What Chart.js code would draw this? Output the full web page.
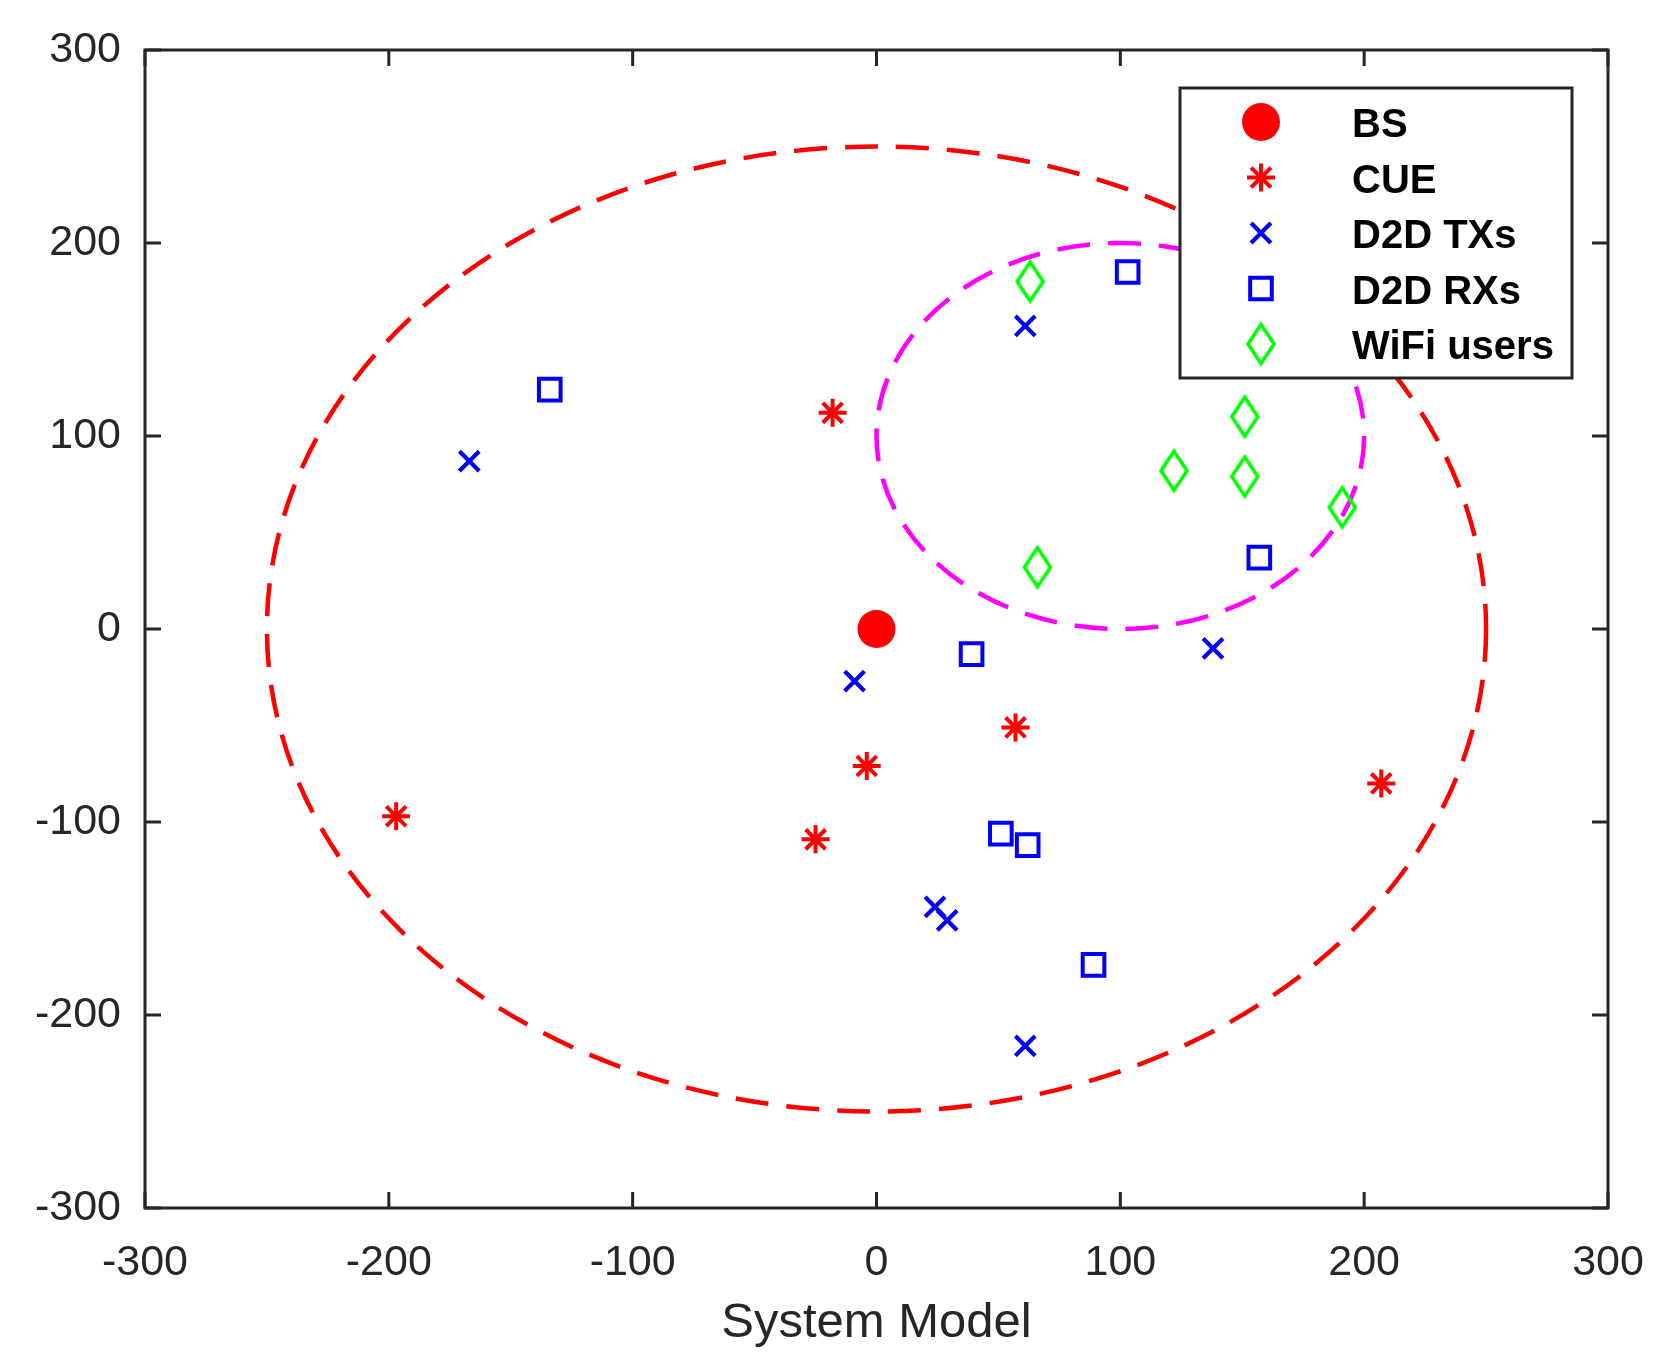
<!DOCTYPE html>
<html>
<head>
<meta charset="utf-8">
<script src="https://cdn.jsdelivr.net/npm/chart.js@4"></script>
<style>
  body { margin: 0; background: #fff; }
  #wrap { width: 1669px; height: 1365px; }
</style>
</head>
<body>
<div id="wrap"><canvas id="model"></canvas></div>
<script>
// positions (metres)
const bsX = [0];
const bsY = [0];
const cueX = [-18, -197, -4, 57, -25, 207];
const cueY = [112, -97, -71, -51, -109, -80];
const txX = [-167, 61, -9, 138, 24, 29, 61];
const txY = [87, 157, -27, -10, -144, -151, -216];
const rxX = [-134, 103, 39, 157, 51, 62, 89];
const rxY = [124, 185, -13, 37, -106, -112, -174];
const wifiX = [63, 151, 122, 151, 191, 66];
const wifiY = [180, 110, 82, 79, 63, 32];

// coverage circles: cell and WiFi area
const circleX = [0, 100];
const circleY = [0, 100];
const circleR = [250, 100];
const circleColor = ['#ff0000', '#ff00ff'];

const axisMin = -300;
const axisMax = 300;
const axisStep = 100;

const ink = '#262626';

function toPoints(xs, ys) {
    return xs.map((x, i) => ({ x: x, y: ys[i] }));
}

// MATLAB style diamond, taller than wide
function diamond(color) {
    const c = document.createElement('canvas');
    c.width = 36;
    c.height = 48;
    const g = c.getContext('2d');
    g.strokeStyle = color;
    g.lineWidth = 3.6;
    g.beginPath();
    g.moveTo(18, 4.5);
    g.lineTo(31, 24);
    g.lineTo(18, 43.5);
    g.lineTo(5, 24);
    g.closePath();
    g.stroke();
    return c;
}

const circlesPlugin = {
    id: 'circles',
    beforeDatasetsDraw(chart) {
        const ctx = chart.ctx;
        const sx = chart.scales.x;
        const sy = chart.scales.y;
        ctx.save();
        ctx.lineWidth = 4.5;
        ctx.setLineDash([33, 18]);
        circleX.forEach((cx, i) => {
            const px = sx.getPixelForValue(cx);
            const py = sy.getPixelForValue(circleY[i]);
            const rx = Math.abs(sx.getPixelForValue(cx + circleR[i]) - px);
            const ry = Math.abs(sy.getPixelForValue(circleY[i] + circleR[i]) - py);
            ctx.strokeStyle = circleColor[i];
            ctx.beginPath();
            ctx.ellipse(px, py, rx, ry, 0, 0, Math.PI * 2);
            ctx.stroke();
        });
        ctx.restore();
    }
};

const boxPlugin = {
    id: 'box',
    afterDraw(chart) {
        const ctx = chart.ctx;
        const a = chart.chartArea;
        const sx = chart.scales.x;
        const sy = chart.scales.y;
        const tl = 16;
        ctx.save();
        ctx.strokeStyle = ink;
        ctx.lineWidth = 3;
        ctx.beginPath();
        sx.ticks.forEach(t => {
            const p = sx.getPixelForValue(t.value);
            ctx.moveTo(p, a.bottom);
            ctx.lineTo(p, a.bottom - tl);
            ctx.moveTo(p, a.top);
            ctx.lineTo(p, a.top + tl);
        });
        sy.ticks.forEach(t => {
            const p = sy.getPixelForValue(t.value);
            ctx.moveTo(a.left, p);
            ctx.lineTo(a.left + tl, p);
            ctx.moveTo(a.right, p);
            ctx.lineTo(a.right - tl, p);
        });
        ctx.stroke();
        ctx.strokeRect(a.left, a.top, a.right - a.left, a.bottom - a.top);

        // legend
        const lx = 1180, ly = 88, lw = 392, lh = 290;
        ctx.fillStyle = '#ffffff';
        ctx.fillRect(lx, ly, lw, lh);
        ctx.strokeRect(lx, ly, lw, lh);
        ctx.font = 'bold 40px "Liberation Sans", Arial, sans-serif';
        ctx.textBaseline = 'middle';
        ctx.textAlign = 'left';
        chart.data.datasets.forEach((ds, i) => {
            const y = 122 + i * 55.5;
            ctx.save();
            ctx.fillStyle = ds.backgroundColor;
            ctx.strokeStyle = ds.borderColor;
            ctx.lineWidth = ds.borderWidth;
            ctx.setLineDash([]);
            Chart.helpers.drawPoint(ctx, {
                pointStyle: ds.pointStyle,
                radius: ds.pointRadius,
                rotation: 0,
                borderWidth: ds.borderWidth
            }, 1261, y);
            ctx.restore();
            ctx.fillStyle = '#000000';
            ctx.fillText(ds.label, 1352, y + 4);
        });
        ctx.restore();
    }
};

const tickFont = { family: '"Liberation Sans", Arial, sans-serif', size: 43 };

new Chart(document.getElementById('model'), {
    type: 'scatter',
    data: {
        datasets: [
            {
                label: 'BS',
                data: toPoints(bsX, bsY),
                pointStyle: 'circle',
                pointRadius: 19,
                backgroundColor: '#ff0000',
                borderColor: '#ff0000',
                borderWidth: 0
            },
            {
                label: 'CUE',
                data: toPoints(cueX, cueY),
                pointStyle: 'star',
                pointRadius: 14,
                backgroundColor: 'rgba(0,0,0,0)',
                borderColor: '#ff0000',
                borderWidth: 4
            },
            {
                label: 'D2D TXs',
                data: toPoints(txX, txY),
                pointStyle: 'crossRot',
                pointRadius: 14,
                backgroundColor: 'rgba(0,0,0,0)',
                borderColor: '#0000ff',
                borderWidth: 4.2
            },
            {
                label: 'D2D RXs',
                data: toPoints(rxX, rxY),
                pointStyle: 'rect',
                pointRadius: 15.3,
                backgroundColor: 'rgba(0,0,0,0)',
                borderColor: '#0000ff',
                borderWidth: 4
            },
            {
                label: 'WiFi users',
                data: toPoints(wifiX, wifiY),
                pointStyle: diamond('#00ff00'),
                pointRadius: 20,
                backgroundColor: 'rgba(0,0,0,0)',
                borderColor: '#00ff00',
                borderWidth: 3.6
            }
        ]
    },
    options: {
        responsive: true,
        maintainAspectRatio: false,
        animation: false,
        events: [],
        layout: { padding: { top: 50, right: 61, left: 0, bottom: 0 } },
        plugins: {
            legend: { display: false },
            tooltip: { enabled: false }
        },
        scales: {
            x: {
                type: 'linear',
                min: axisMin,
                max: axisMax,
                grid: { display: false },
                border: { display: false },
                ticks: { stepSize: axisStep, color: ink, font: tickFont, padding: 21, maxRotation: 0 },
                title: {
                    display: true,
                    text: 'System Model',
                    color: ink,
                    font: { family: '"Liberation Sans", Arial, sans-serif', size: 49 },
                    padding: { top: 0, bottom: 12 }
                },
                afterFit: s => { s.height = 157; }
            },
            y: {
                type: 'linear',
                min: axisMin,
                max: axisMax,
                grid: { display: false },
                border: { display: false },
                ticks: { stepSize: axisStep, color: ink, font: tickFont, padding: 16 },
                afterFit: s => { s.width = 145; }
            }
        }
    },
    plugins: [circlesPlugin, boxPlugin]
});
</script>
</body>
</html>
